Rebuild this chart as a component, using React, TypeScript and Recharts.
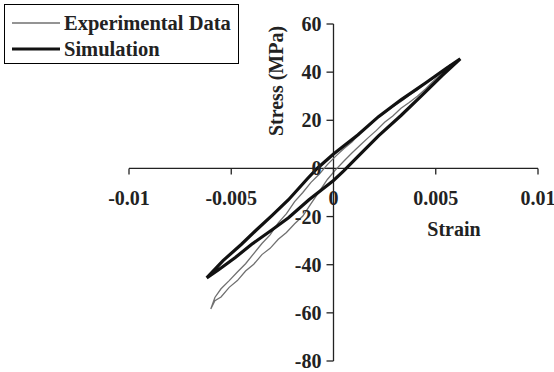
import { LineChart, Line, XAxis, YAxis, ReferenceLine, ReferenceDot, Legend } from 'recharts'

const W = 554
const H = 372
const MARGIN = { top: 24, right: 16, bottom: 11, left: 129 }
const FONT = '"Liberation Serif", "Times New Roman", serif'
const INK = '#222'

const X_MIN = -0.01
const X_MAX = 0.01
const Y_MIN = -80
const Y_MAX = 60

const xTicks = [-0.01, -0.005, 0, 0.005, 0.01]
const yTicks = [-80, -60, -40, -20, 0, 20, 40, 60]

// simulation loop: loading branch (bottom-left -> top-right), then unloading back
const simLoadStrain = [-0.0062, -0.0056, -0.0048, -0.004, -0.003, -0.0022, -0.0012, 0, 0.0005, 0.0012, 0.0022, 0.0033, 0.0044, 0.0053, 0.0062]
const simLoadStress = [-45.5, -42, -37, -31.5, -25.5, -20.5, -13, -5, -1, 5, 13.5, 22, 31, 38.5, 45.5]
const simUnloadStrain = [0.0062, 0.0055, 0.0045, 0.0033, 0.0022, 0.0012, 0, -0.0008, -0.0013, -0.0022, -0.003, -0.0038, -0.0045, -0.0054, -0.0062]
const simUnloadStress = [45.5, 41.5, 35.5, 28.5, 21.5, 14, 6, 0, -4.5, -13, -19.5, -25.8, -31.5, -38.3, -45.5]

// experimental loop (noisy)
const expLoadStrain = [-0.006, -0.0058, -0.0055, -0.0051, -0.0047, -0.0043, -0.0039, -0.0035, -0.0031, -0.0027, -0.0023, -0.0019, -0.0015, -0.0011, -0.0007, -0.0003, 0.0001, 0.0005, 0.0009, 0.0013, 0.0017, 0.0021, 0.0025, 0.0029, 0.0033, 0.0037, 0.0041, 0.0045, 0.0049, 0.0053, 0.0057]
const expLoadStress = [-58.4, -55, -53.4, -49.4, -46.6, -42.6, -39.8, -35.8, -33.2, -29.4, -26.6, -23, -19.8, -14.6, -9.6, -4.6, -0.6, 3, 6.4, 9.6, 12.8, 15.8, 19.2, 21.8, 25, 27.4, 30, 33, 36.4, 39.4, 43]
const expUnloadStrain = [0.0057, 0.0053, 0.0049, 0.0045, 0.0041, 0.0037, 0.0033, 0.0029, 0.0025, 0.0021, 0.0017, 0.0013, 0.0009, 0.0005, 0.0001, -0.0003, -0.0007, -0.0011, -0.0015, -0.0019, -0.0023, -0.0027, -0.0031, -0.0035, -0.0039, -0.0043, -0.0047, -0.0051, -0.0055, -0.0058, -0.006]
const expUnloadStress = [43, 40.4, 37.6, 35.4, 32.6, 30.4, 27.8, 25.6, 23, 20.6, 17.6, 14.6, 11, 8.2, 5, 1.6, -2.4, -5.8, -10, -13.8, -18.8, -22.6, -27.6, -31.2, -35.4, -39.6, -43, -46.6, -50, -53.6, -58.4]

const zip = (xs: number[], ys: number[]) => xs.map((x, i) => ({ x, y: ys[i] }))

const simData = [...zip(simLoadStrain, simLoadStress), ...zip(simUnloadStrain, simUnloadStress)]
const expData = [...zip(expLoadStrain, expLoadStress), ...zip(expUnloadStrain, expUnloadStress)]

const textStyle = { fontFamily: FONT, fontWeight: 700, fontSize: 20, fill: INK }

// tick marks + labels hang off the axes that cross at the origin
const XTickShape = ({ cx, cy, text }: any) => (
    <g>
        <line x1={cx} x2={cx} y1={cy} y2={cy + 6} stroke={INK} strokeWidth={1.3} />
        <text x={cx} y={cy + 37} textAnchor="middle" style={textStyle}>{text}</text>
    </g>
)

const YTickShape = ({ cx, cy, text }: any) => (
    <g>
        <line x1={cx - 7} x2={cx} y1={cy} y2={cy} stroke={INK} strokeWidth={1.3} />
        <text x={cx - 12} y={cy + 7} textAnchor="end" style={textStyle}>{text}</text>
    </g>
)

const StrainTitle = ({ viewBox }: any) => (
    <text x={viewBox.x + viewBox.width - 84} y={viewBox.y + 68} textAnchor="middle" style={textStyle}>Strain</text>
)

const StressTitle = ({ viewBox }: any) => {
    const x = viewBox.x - 58
    const y = viewBox.y + 57
    return (
        <text x={x} y={y} textAnchor="middle" dominantBaseline="central" transform={`rotate(-90 ${x} ${y})`} style={textStyle}>
            Stress (MPa)
        </text>
    )
}

const LegendBox = ({ payload }: any) => (
    <div style={{ width: 235, height: 60, border: '1px solid #000', boxSizing: 'border-box', paddingTop: 5, background: '#fff' }}>
        {(payload ?? []).map((entry: any, i: number) => (
            <div key={i} style={{ display: 'flex', alignItems: 'center', height: 26 }}>
                <svg width={48} height={6} style={{ marginLeft: 7 }}>
                    <line x1={0} x2={48} y1={3} y2={3} stroke={entry.color} strokeWidth={i === 0 ? 1.3 : 3} />
                </svg>
                <span style={{ marginLeft: 4, fontFamily: FONT, fontWeight: 700, fontSize: 20.5, lineHeight: '26px', color: INK }}>
                    {entry.value}
                </span>
            </div>
        ))}
    </div>
)

const App = () => {
    return (
        <div style={{ position: 'absolute', left: 0, top: 0, background: '#fff' }}>
            <LineChart width={W} height={H} margin={MARGIN}>
                <XAxis type="number" dataKey="x" domain={[X_MIN, X_MAX]} allowDataOverflow hide />
                <YAxis type="number" dataKey="y" domain={[Y_MIN, Y_MAX]} allowDataOverflow hide />
                <ReferenceLine y={0} stroke={INK} strokeWidth={1.3} label={<StrainTitle />} />
                <ReferenceLine x={0} stroke={INK} strokeWidth={1.3} label={<StressTitle />} />
                {xTicks.map((t) => (
                    <ReferenceDot key={`x${t}`} x={t} y={0} r={0} shape={(p: any) => <XTickShape {...p} text={String(t)} />} />
                ))}
                {yTicks.map((t) => (
                    <ReferenceDot key={`y${t}`} x={0} y={t} r={0} shape={(p: any) => <YTickShape {...p} text={String(t)} />} />
                ))}
                <Legend
                    layout="vertical"
                    align="center"
                    verticalAlign="middle"
                    wrapperStyle={{ left: 4, top: 4, width: 235 }}
                    content={<LegendBox />}
                />
                <Line
                    data={expData}
                    dataKey="y"
                    name="Experimental Data"
                    stroke="#707070"
                    strokeWidth={1.3}
                    dot={false}
                    activeDot={false}
                    isAnimationActive={false}
                />
                <Line
                    data={simData}
                    dataKey="y"
                    name="Simulation"
                    stroke="#111"
                    strokeWidth={3.2}
                    dot={false}
                    activeDot={false}
                    isAnimationActive={false}
                />
            </LineChart>
        </div>
    )
}

export default App
